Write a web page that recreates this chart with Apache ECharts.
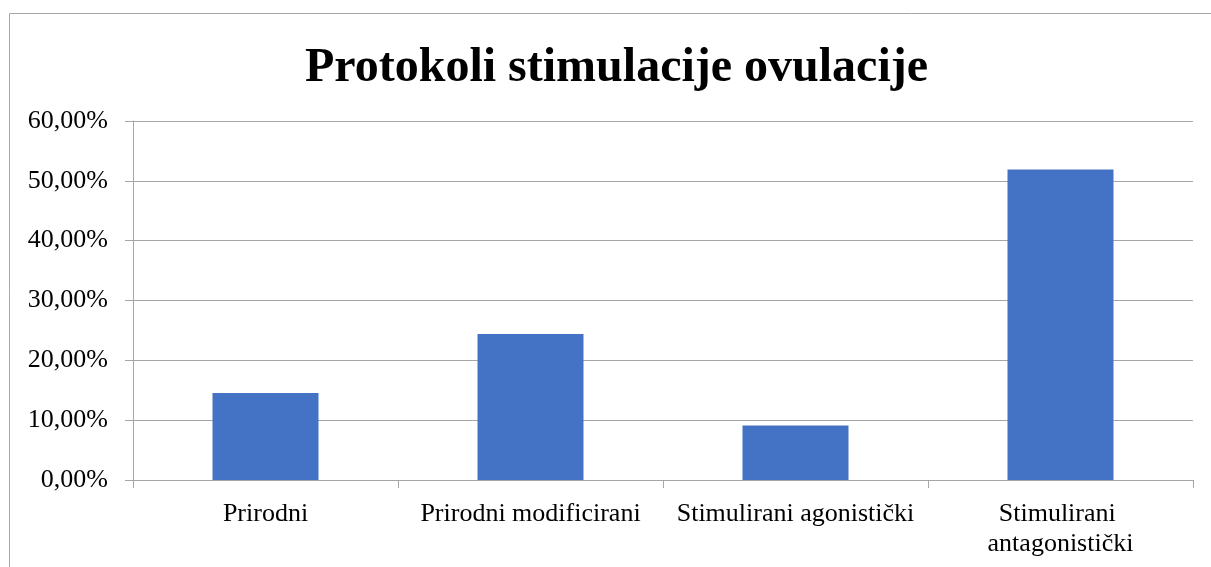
<!DOCTYPE html>
<html>
<head>
<meta charset="utf-8">
<script src="https://cdn.jsdelivr.net/npm/echarts@6/dist/echarts.min.js"></script>
<style>
html,body{margin:0;padding:0;background:#fff;}
#chart{width:1211px;height:567px;}
</style>
</head>
<body>
<div id="chart"></div>
<script>
const titleText = 'Protokoli stimulacije ovulacije';
const categories = ['Prirodni', 'Prirodni modificirani', 'Stimulirani agonistički', 'Stimulirani antagonistički'];
const values = [14.55, 24.4, 9.09, 51.9];
const yTickLabels = ['0,00%', '10,00%', '20,00%', '30,00%', '40,00%', '50,00%', '60,00%'];

const chart = echarts.init(document.getElementById('chart'));
const font = '"Liberation Serif", "Times New Roman", serif';
const gridColor = '#a6a6a6';
chart.setOption({
  animation: false,
  backgroundColor: '#fff',
  graphic: [{
    type: 'rect',
    shape: { x: 9.5, y: 13.5, width: 1215, height: 600 },
    style: { fill: 'none', stroke: '#a6a6a6', lineWidth: 1 },
    silent: true
  }],
  title: {
    text: titleText,
    left: 300,
    top: 40,
    textStyle: { fontFamily: font, fontSize: 48, fontWeight: 'bold', color: '#000' }
  },
  grid: { left: 133, right: 18, top: 121, bottom: 87, containLabel: false },
  xAxis: {
    type: 'category',
    data: categories,
    axisLine: { lineStyle: { color: gridColor, width: 1 } },
    axisTick: { show: true, length: 8, lineStyle: { color: gridColor } },
    axisLabel: {
      fontFamily: font, fontSize: 26, color: '#000', margin: 19,
      width: 255, overflow: 'break', lineHeight: 30, interval: 0
    }
  },
  yAxis: {
    type: 'value',
    min: 0, max: 60, interval: 10,
    axisLine: { show: true, lineStyle: { color: gridColor, width: 1 } },
    axisTick: { show: true, length: 8, lineStyle: { color: gridColor } },
    splitLine: { lineStyle: { color: gridColor, width: 1 } },
    axisLabel: {
      fontFamily: font, fontSize: 26, color: '#000', margin: 25,
      formatter: function (v) { return yTickLabels[Math.round(v / 10)]; }
    }
  },
  series: [{
    type: 'bar',
    data: values,
    barWidth: 106,
    itemStyle: { color: '#4472C4' }
  }]
});
</script>
</body>
</html>
